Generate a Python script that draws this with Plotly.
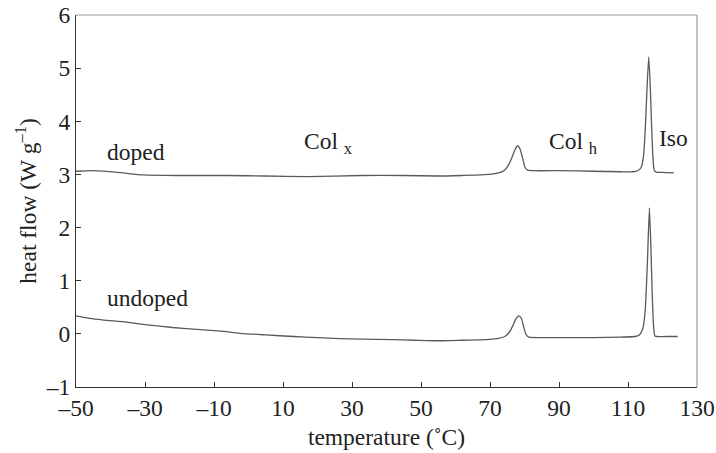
import plotly.graph_objects as go

# Temperature (°C) and heat flow (W/g)
doped_t = [-50, -45, -38, -30.5, -20, -6, 5, 17, 32.5, 45, 55, 62, 67.3, 71, 73, 74.2, 75.3, 76.3, 77.2, 78.0,
           78.7, 79.4, 80.1, 80.9, 83, 90, 100, 108, 111.5, 112.8, 113.8, 114.5, 115.0, 115.5, 116.0,
           116.4, 116.8, 117.2, 117.6, 118.3, 120, 123.3]
doped_q = [3.06, 3.07, 3.04, 2.99, 2.98, 2.98, 2.97, 2.96, 2.98, 2.98, 2.97, 2.98, 2.99, 3.01, 3.04, 3.08, 3.17, 3.31, 3.46, 3.54,
           3.48, 3.32, 3.14, 3.08, 3.07, 3.07, 3.06, 3.05, 3.05, 3.07, 3.13, 3.35, 3.85, 4.6, 5.21,
           4.75, 4.0, 3.35, 3.08, 3.04, 3.04, 3.03]

undoped_t = [-50, -46, -42, -35.3, -29.5, -22, -15.9, -8, -2.4, 5, 13.1, 20, 26.4, 33, 41.7, 48, 55.3, 62, 68.8, 72,
             74.3, 75.6, 76.6, 77.5, 78.4, 79.1, 79.8, 80.5, 81.3, 84, 92, 100, 108, 112, 113.3, 114.3, 115.0,
             115.6, 116.2, 116.6, 117.0, 117.4, 117.8, 118.5, 121, 124.4]
undoped_q = [0.34, 0.29, 0.26, 0.22, 0.17, 0.12, 0.09, 0.05, 0.01, -0.02, -0.05, -0.07, -0.09, -0.10, -0.11, -0.12, -0.13, -0.12, -0.11, -0.09,
             -0.05, 0.03, 0.15, 0.28, 0.34, 0.29, 0.12, -0.02, -0.06, -0.07, -0.07, -0.07, -0.06, -0.05, -0.02, 0.1, 0.45,
             1.3, 2.37, 1.7, 0.8, 0.15, -0.04, -0.05, -0.05, -0.05]

x_ticks = [-50, -30, -10, 10, 30, 50, 70, 90, 110, 130]
y_ticks = [-1, 0, 1, 2, 3, 4, 5, 6]

# Label texts and their anchor positions (data units)
labels = ["doped", "undoped", "Col <sub>x</sub>", "Col <sub>h</sub>", "Iso"]
label_t = [-41.5, -41.5, 15.5, 86.5, 118.5]
label_q = [3.43, 0.68, 3.6, 3.6, 3.68]

FONT = "Liberation Serif, Times New Roman, serif"
LINE = "#5a5a5a"
FS = 23.5

fig = go.Figure()
fig.add_trace(go.Scatter(x=doped_t, y=doped_q, mode="lines", name="doped",
                         line=dict(color=LINE, width=1.3, shape="spline", smoothing=0.5)))
fig.add_trace(go.Scatter(x=undoped_t, y=undoped_q, mode="lines", name="undoped",
                         line=dict(color=LINE, width=1.3, shape="spline", smoothing=0.5)))

for txt, tx, ty in zip(labels, label_t, label_q):
    fig.add_annotation(x=tx, y=ty, text=txt, showarrow=False, xanchor="left", yanchor="middle",
                       font=dict(family=FONT, size=FS, color="#222"))

# light frame on top and right
fig.add_shape(type="line", xref="paper", yref="paper", x0=0, x1=1, y0=1, y1=1,
              line=dict(color="#9a9a9a", width=1.2))
fig.add_shape(type="line", xref="paper", yref="paper", x0=1, x1=1, y0=0, y1=1,
              line=dict(color="#9a9a9a", width=1.2))

fig.update_layout(
    width=716, height=453,
    margin=dict(l=76, r=19, t=15, b=66),
    paper_bgcolor="white", plot_bgcolor="white",
    showlegend=False,
    font=dict(family=FONT, size=FS, color="#222"),
    xaxis=dict(range=[-50, 130], tickvals=x_ticks, ticktext=[str(v).replace("-", "\u2013") for v in x_ticks],
               ticks="inside", ticklen=5, tickcolor="#333", showline=True, linecolor="#333", linewidth=1.3,
               showgrid=False, zeroline=False, automargin=False,
               title=dict(text="temperature (\u02daC)", font=dict(family=FONT, size=FS), standoff=8),
               tickfont=dict(family=FONT, size=FS, color="#222")),
    yaxis=dict(range=[-1, 6], tickvals=y_ticks, ticktext=[str(v).replace("-", "\u2013") for v in y_ticks],
               ticks="inside", ticklen=5, tickcolor="#333", showline=True, linecolor="#333", linewidth=1.3,
               showgrid=False, zeroline=False, automargin=False,
               title=dict(text="heat flow (W g<sup>\u20131</sup>)", font=dict(family=FONT, size=FS), standoff=2),
               tickfont=dict(family=FONT, size=FS, color="#222")),
)

fig.write_html("out.html", config={"displayModeBar": False},
               post_script="document.body.style.margin='0';document.body.style.overflow='hidden';")
